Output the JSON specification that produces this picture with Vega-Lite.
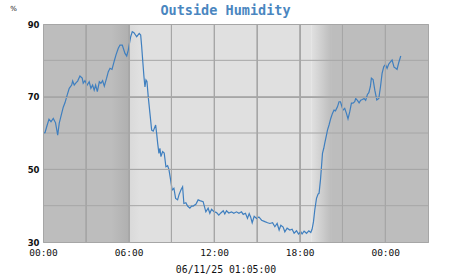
{
  "$schema": "https://vega.github.io/schema/vega-lite/v6.json",
  "autosize": "none",
  "width": 385,
  "height": 218,
  "padding": {"left": 43, "top": 24, "right": 23, "bottom": 33},
  "background": "white",
  "title": {"text": "Outside Humidity", "font": "DejaVu Sans Mono", "fontSize": 13.5, "fontWeight": "bold", "color": "#4a86c0", "anchor": "middle", "dx": -10, "offset": -13},
  "config": {"view": {"stroke": "#a4a4a4", "strokeWidth": 1}},
  "layer": [
    {
      "data": {"values": [{"start": 0, "end": 4.85}, {"start": 20.2, "end": 27}]},
      "mark": {"type": "rect", "color": "#bdbdbd"},
      "encoding": {
        "x": {"field": "start", "type": "quantitative", "scale": {"domain": [0, 27], "nice": false, "zero": false},
          "axis": {"values": [0, 3, 6, 9, 12, 15, 18, 21, 24, 27], "labelExpr": "(datum.value % 6 == 0) ? ((datum.value % 24 < 10 ? '0' : '') + (datum.value % 24) + ':00') : ''",
            "grid": true, "gridColor": "#a6a6a6", "gridWidth": 1, "gridOpacity": 1, "domain": false, "ticks": false, "zindex": 1,
            "labelFont": "DejaVu Sans Mono", "labelFontSize": 9.5, "labelColor": "#111111", "labelPadding": 5, "labelFlush": false,
            "title": "06/11/25 01:05:00", "titleFont": "DejaVu Sans Mono", "titleFontSize": 9.8, "titleFontWeight": "normal", "titleColor": "#111111",
            "titleX": 182.5, "titleY": 30.5, "titleBaseline": "alphabetic", "titleAnchor": "middle", "titleAlign": "center"}},
        "x2": {"field": "end"}
      }
    },
    {
      "data": {"values": [{"start": 4.8, "end": 6.0}]},
      "mark": {"type": "rect", "color": {"gradient": "linear", "x1": 0, "y1": 0, "x2": 1, "y2": 0, "stops": [{"offset": 0, "color": "#bdbdbd"}, {"offset": 1, "color": "#b0b0b0"}]}},
      "encoding": {"x": {"field": "start", "type": "quantitative"}, "x2": {"field": "end"}}
    },
    {
      "data": {"values": [{"start": 6.0, "end": 18.85}]},
      "mark": {"type": "rect", "color": {"gradient": "linear", "x1": 0, "y1": 0, "x2": 1, "y2": 0, "stops": [{"offset": 0, "color": "#d9d9d9"}, {"offset": 0.06, "color": "#e0e0e0"}, {"offset": 1, "color": "#e0e0e0"}]}},
      "encoding": {"x": {"field": "start", "type": "quantitative"}, "x2": {"field": "end"}}
    },
    {
      "data": {"values": [{"start": 18.85, "end": 20.2}]},
      "mark": {"type": "rect", "color": {"gradient": "linear", "x1": 0, "y1": 0, "x2": 1, "y2": 0, "stops": [{"offset": 0, "color": "#e0e0e0"}, {"offset": 1, "color": "#bdbdbd"}]}},
      "encoding": {"x": {"field": "start", "type": "quantitative"}, "x2": {"field": "end"}}
    },
    {
      "data": {"values": [{"hour": 3}, {"hour": 6}, {"hour": 9}, {"hour": 12}, {"hour": 15}, {"hour": 18}, {"hour": 21}, {"hour": 24}]},
      "mark": {"type": "rule", "color": "#a6a6a6", "strokeWidth": 1},
      "encoding": {"x": {"field": "hour", "type": "quantitative"}}
    },
    {
      "data": {"values": [{"level": 40}, {"level": 50}, {"level": 60}, {"level": 70}, {"level": 80}]},
      "mark": {"type": "rule", "color": "#a6a6a6", "strokeWidth": 1},
      "encoding": {"y": {"field": "level", "type": "quantitative"}}
    },
    {
      "data": {"values": [
        {"hour": 0.04, "humidity": 60.0}, {"hour": 0.14, "humidity": 60.1}, {"hour": 0.28, "humidity": 62.0}, {"hour": 0.42, "humidity": 63.8},
        {"hour": 0.56, "humidity": 63.1}, {"hour": 0.72, "humidity": 64.0}, {"hour": 0.88, "humidity": 62.8}, {"hour": 1.03, "humidity": 59.4},
        {"hour": 1.14, "humidity": 62.7}, {"hour": 1.31, "humidity": 65.4}, {"hour": 1.42, "humidity": 67.1}, {"hour": 1.54, "humidity": 68.3},
        {"hour": 1.70, "humidity": 70.5}, {"hour": 1.84, "humidity": 72.3}, {"hour": 2.01, "humidity": 73.2}, {"hour": 2.08, "humidity": 74.3},
        {"hour": 2.19, "humidity": 73.2}, {"hour": 2.31, "humidity": 73.8}, {"hour": 2.43, "humidity": 74.3}, {"hour": 2.59, "humidity": 75.7},
        {"hour": 2.75, "humidity": 75.1}, {"hour": 2.82, "humidity": 73.7}, {"hour": 2.94, "humidity": 74.4}, {"hour": 3.10, "humidity": 73.2},
        {"hour": 3.24, "humidity": 74.1}, {"hour": 3.36, "humidity": 72.3}, {"hour": 3.48, "humidity": 73.2}, {"hour": 3.59, "humidity": 71.8},
        {"hour": 3.69, "humidity": 73.2}, {"hour": 3.81, "humidity": 71.4}, {"hour": 3.95, "humidity": 74.1}, {"hour": 4.06, "humidity": 73.7},
        {"hour": 4.18, "humidity": 74.4}, {"hour": 4.30, "humidity": 72.9}, {"hour": 4.46, "humidity": 75.1}, {"hour": 4.58, "humidity": 76.9},
        {"hour": 4.70, "humidity": 77.8}, {"hour": 4.84, "humidity": 77.5}, {"hour": 4.98, "humidity": 79.6}, {"hour": 5.12, "humidity": 81.5},
        {"hour": 5.28, "humidity": 83.3}, {"hour": 5.40, "humidity": 84.2}, {"hour": 5.56, "humidity": 84.2}, {"hour": 5.75, "humidity": 81.9},
        {"hour": 5.87, "humidity": 81.2}, {"hour": 5.98, "humidity": 82.8}, {"hour": 6.15, "humidity": 86.5}, {"hour": 6.26, "humidity": 87.9},
        {"hour": 6.38, "humidity": 87.6}, {"hour": 6.57, "humidity": 86.5}, {"hour": 6.75, "humidity": 87.4}, {"hour": 6.85, "humidity": 87.0},
        {"hour": 6.92, "humidity": 83.8}, {"hour": 6.99, "humidity": 80.1}, {"hour": 7.08, "humidity": 75.5}, {"hour": 7.15, "humidity": 72.7},
        {"hour": 7.22, "humidity": 74.6}, {"hour": 7.29, "humidity": 74.2}, {"hour": 7.38, "humidity": 70.0}, {"hour": 7.50, "humidity": 65.4},
        {"hour": 7.62, "humidity": 60.8}, {"hour": 7.73, "humidity": 60.5}, {"hour": 7.90, "humidity": 62.2}, {"hour": 7.97, "humidity": 59.9},
        {"hour": 8.04, "humidity": 57.2}, {"hour": 8.13, "humidity": 54.4}, {"hour": 8.20, "humidity": 55.8}, {"hour": 8.27, "humidity": 53.5},
        {"hour": 8.39, "humidity": 54.9}, {"hour": 8.50, "humidity": 54.5}, {"hour": 8.62, "humidity": 50.7}, {"hour": 8.74, "humidity": 51.0},
        {"hour": 8.83, "humidity": 50.0}, {"hour": 8.95, "humidity": 47.1}, {"hour": 9.06, "humidity": 44.3}, {"hour": 9.18, "humidity": 44.8},
        {"hour": 9.30, "humidity": 42.0}, {"hour": 9.44, "humidity": 41.6}, {"hour": 9.53, "humidity": 42.9}, {"hour": 9.67, "humidity": 44.3},
        {"hour": 9.79, "humidity": 45.2}, {"hour": 9.88, "humidity": 40.6}, {"hour": 10.02, "humidity": 40.8}, {"hour": 10.14, "humidity": 39.9},
        {"hour": 10.30, "humidity": 39.3}, {"hour": 10.42, "humidity": 39.9}, {"hour": 10.53, "humidity": 39.9}, {"hour": 10.72, "humidity": 40.4},
        {"hour": 10.88, "humidity": 41.6}, {"hour": 11.00, "humidity": 41.4}, {"hour": 11.23, "humidity": 41.1}, {"hour": 11.42, "humidity": 38.3},
        {"hour": 11.58, "humidity": 39.3}, {"hour": 11.70, "humidity": 37.9}, {"hour": 11.82, "humidity": 39.0}, {"hour": 11.98, "humidity": 38.4},
        {"hour": 12.17, "humidity": 38.1}, {"hour": 12.33, "humidity": 37.4}, {"hour": 12.47, "humidity": 38.0}, {"hour": 12.64, "humidity": 38.6},
        {"hour": 12.75, "humidity": 37.7}, {"hour": 12.87, "humidity": 38.6}, {"hour": 13.03, "humidity": 38.0}, {"hour": 13.22, "humidity": 38.3},
        {"hour": 13.38, "humidity": 37.9}, {"hour": 13.57, "humidity": 38.3}, {"hour": 13.74, "humidity": 37.9}, {"hour": 13.92, "humidity": 38.3},
        {"hour": 14.04, "humidity": 37.6}, {"hour": 14.20, "humidity": 37.9}, {"hour": 14.34, "humidity": 36.5}, {"hour": 14.46, "humidity": 37.8},
        {"hour": 14.56, "humidity": 36.9}, {"hour": 14.67, "humidity": 35.3}, {"hour": 14.81, "humidity": 37.1}, {"hour": 14.98, "humidity": 36.5},
        {"hour": 15.14, "humidity": 36.9}, {"hour": 15.33, "humidity": 36.0}, {"hour": 15.56, "humidity": 35.6}, {"hour": 15.75, "humidity": 35.3},
        {"hour": 15.91, "humidity": 35.1}, {"hour": 16.10, "humidity": 35.3}, {"hour": 16.26, "humidity": 34.2}, {"hour": 16.42, "humidity": 35.1},
        {"hour": 16.56, "humidity": 33.3}, {"hour": 16.68, "humidity": 34.6}, {"hour": 16.84, "humidity": 34.1}, {"hour": 16.96, "humidity": 32.8},
        {"hour": 17.12, "humidity": 33.8}, {"hour": 17.31, "humidity": 33.3}, {"hour": 17.47, "humidity": 33.5}, {"hour": 17.61, "humidity": 32.4},
        {"hour": 17.78, "humidity": 33.1}, {"hour": 17.92, "humidity": 32.2}, {"hour": 18.08, "humidity": 32.8}, {"hour": 18.17, "humidity": 32.2},
        {"hour": 18.31, "humidity": 33.0}, {"hour": 18.48, "humidity": 32.4}, {"hour": 18.64, "humidity": 33.1}, {"hour": 18.78, "humidity": 32.6},
        {"hour": 18.87, "humidity": 33.5}, {"hour": 18.97, "humidity": 35.6}, {"hour": 19.06, "humidity": 38.8}, {"hour": 19.18, "humidity": 42.0},
        {"hour": 19.29, "humidity": 43.2}, {"hour": 19.36, "humidity": 43.4}, {"hour": 19.46, "humidity": 47.1}, {"hour": 19.53, "humidity": 50.7},
        {"hour": 19.60, "humidity": 54.4}, {"hour": 19.69, "humidity": 55.8}, {"hour": 19.76, "humidity": 57.2}, {"hour": 19.88, "humidity": 59.4},
        {"hour": 19.95, "humidity": 60.8}, {"hour": 20.06, "humidity": 62.2}, {"hour": 20.18, "humidity": 64.0}, {"hour": 20.30, "humidity": 65.4},
        {"hour": 20.41, "humidity": 66.3}, {"hour": 20.51, "humidity": 66.1}, {"hour": 20.65, "humidity": 67.2}, {"hour": 20.76, "humidity": 68.6},
        {"hour": 20.86, "humidity": 68.6}, {"hour": 20.93, "humidity": 67.7}, {"hour": 21.04, "humidity": 66.3}, {"hour": 21.16, "humidity": 66.8},
        {"hour": 21.28, "humidity": 65.4}, {"hour": 21.39, "humidity": 63.9}, {"hour": 21.51, "humidity": 65.8}, {"hour": 21.63, "humidity": 68.2},
        {"hour": 21.74, "humidity": 68.2}, {"hour": 21.86, "humidity": 68.6}, {"hour": 21.93, "humidity": 69.5}, {"hour": 22.05, "humidity": 69.0},
        {"hour": 22.17, "humidity": 68.3}, {"hour": 22.28, "humidity": 69.0}, {"hour": 22.40, "humidity": 69.2}, {"hour": 22.52, "humidity": 69.5},
        {"hour": 22.63, "humidity": 69.0}, {"hour": 22.75, "humidity": 70.6}, {"hour": 22.85, "humidity": 71.1}, {"hour": 22.96, "humidity": 72.8},
        {"hour": 23.03, "humidity": 75.1}, {"hour": 23.15, "humidity": 74.7}, {"hour": 23.27, "humidity": 71.8}, {"hour": 23.41, "humidity": 69.1},
        {"hour": 23.55, "humidity": 69.5}, {"hour": 23.67, "humidity": 72.8}, {"hour": 23.78, "humidity": 76.4}, {"hour": 23.90, "humidity": 78.3},
        {"hour": 24.02, "humidity": 78.8}, {"hour": 24.13, "humidity": 77.8}, {"hour": 24.25, "humidity": 79.0}, {"hour": 24.37, "humidity": 79.6},
        {"hour": 24.48, "humidity": 80.1}, {"hour": 24.62, "humidity": 78.1}, {"hour": 24.74, "humidity": 77.8}, {"hour": 24.83, "humidity": 77.5},
        {"hour": 24.95, "humidity": 79.4}, {"hour": 25.09, "humidity": 81.2}
      ]},
      "mark": {"type": "line", "color": "#3f7fbf", "strokeWidth": 1.2, "interpolate": "linear"},
      "encoding": {
        "x": {"field": "hour", "type": "quantitative"},
        "y": {"field": "humidity", "type": "quantitative", "scale": {"domain": [30, 90], "nice": false, "zero": false},
          "axis": {"values": [30, 40, 50, 60, 70, 80, 90], "labelExpr": "datum.value % 20 == 10 ? datum.label : ''",
            "grid": true, "gridColor": "#a6a6a6", "gridWidth": 1, "gridOpacity": 1, "domain": false, "ticks": false, "zindex": 1,
            "labelFont": "DejaVu Sans", "labelFontSize": 8.5, "labelFontWeight": "bold", "labelColor": "#111111", "labelPadding": 4,
            "title": "%", "titleAngle": 0, "titleFont": "DejaVu Sans", "titleFontSize": 7, "titleFontWeight": "normal", "titleColor": "#111111",
            "titleX": -30, "titleY": -14, "titleAlign": "center", "titleBaseline": "alphabetic"}}
      }
    }
  ]
}
